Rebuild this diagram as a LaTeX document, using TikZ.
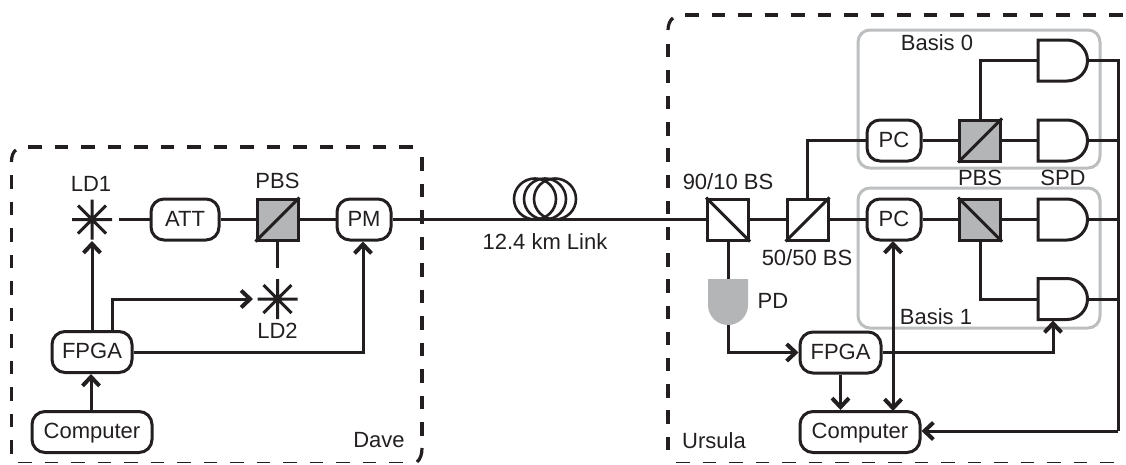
\documentclass[tikz,border=0pt]{standalone}
\usepackage{fontspec}
\setmainfont{Liberation Sans}
\usetikzlibrary{arrows.meta}
\definecolor{ink}{HTML}{231F20}
\definecolor{pbsgray}{HTML}{B3B5B7}
\definecolor{basisgray}{HTML}{BCBEC0}
\tikzset{
  x=1pt,y=-1pt,
  chev/.tip={Straight Barb[length=9pt,width=17pt,line width=4pt]},
  wire/.style={draw=ink,line width=3pt},
  sig/.style={wire,-{chev}},
  sigboth/.style={wire,{chev}-{chev}},
  roundbox/.style={draw=ink,line width=3pt,rounded corners=13pt,fill=white,minimum height=41pt,inner sep=0pt,text=ink,text height=13pt,text depth=0pt,font=\fontsize{22}{24}\selectfont},
  pbsbox/.style={draw=ink,line width=3pt,fill=pbsgray,minimum width=41pt,minimum height=41pt,inner sep=0pt},
  bsbox/.style={draw=ink,line width=3pt,fill=white,minimum width=41pt,minimum height=41pt,inner sep=0pt},
  lbl/.style={text=ink,inner sep=0pt,font=\fontsize{22}{24}\selectfont},
  region/.style={draw=ink,line width=3.2pt,dash pattern=on 13.5pt off 13pt},
  regionfoot/.style={draw=ink,line width=1.6pt,dash pattern=on 13.5pt off 13pt},
  regioncorner/.style={draw=ink,line width=3.2pt},
  basis/.style={draw=basisgray,line width=3pt,rounded corners=12pt},
  coil/.style={draw=ink,line width=2.6pt},
  starpt/.style={inner sep=0pt,minimum size=0pt},
}
\newcommand{\laserstar}[1]{%
  \draw[draw=ink,line width=3pt] ([xshift=-20pt]#1.center)--([xshift=20pt]#1.center)
    ([yshift=-20pt]#1.center)--([yshift=20pt]#1.center)
    ([xshift=-14pt,yshift=-14pt]#1.center)--([xshift=14pt,yshift=14pt]#1.center)
    ([xshift=-14pt,yshift=14pt]#1.center)--([xshift=14pt,yshift=-14pt]#1.center);}
\newcommand{\andgate}[4][white]{% fill, name, left x, centre y
  \draw[draw=ink,line width=3pt,fill=#1] (#3,#4-20.5) -- (#3+29,#4-20.5)
    arc[start angle=90,end angle=-90,radius=20.5pt] -- (#3,#4+20.5) -- cycle;
  \coordinate (#2) at (#3+49.5,#4);}
\begin{document}
\begin{tikzpicture}
\useasboundingbox (0,0) rectangle (1126,464);
% Dave region
\draw[region] (28,147) -- (414,147);
\draw[region] (422,157) -- (422,436);
\draw[region] (11.5,175) -- (11.5,454);
\draw[regionfoot] (18,462.3) -- (414,462.3);
\draw[regioncorner] (11.5,162) .. controls (11.5,156) and (13,152) .. (16,150);
\draw[regioncorner] (422,448) .. controls (422,454) and (420.5,459) .. (417,462);
% Ursula region
\draw[region] (685,15) -- (1126,15);
\draw[region,dash pattern=on 13.5pt off 12.7pt] (668,43.5) -- (668,452);
\draw[regionfoot] (676,462.5) -- (1126,462.5);
\draw[regioncorner] (668,30) .. controls (668,25) and (670,20) .. (673,18);
% Basis boxes
\draw[basis] (858,30) rectangle (1100,168);
\draw[basis] (858,188) rectangle (1100,328);
% Dave
\node[starpt] (ld1) at (92,219.5) {};
\node[starpt] (ld2) at (277.5,299) {};
\coordinate (ld1out) at (119,219.5);
\coordinate (ld2out) at (277.5,268);
\node[roundbox,minimum width=68pt] (att) at (185,219.5) {ATT};
\node[pbsbox] (pbsa) at (277.5,219.5) {};
\node[roundbox,minimum width=54pt] (pm) at (364,219.5) {PM};
\node[roundbox,minimum width=80pt] (fpgaa) at (92,352) {FPGA};
\node[roundbox,minimum width=120pt] (compa) at (92,432) {Computer};
\laserstar{ld1}\laserstar{ld2}
\draw[draw=ink,line width=3pt] (pbsa.south west) -- (pbsa.north east);
\draw[wire] (ld1out) -- (att.west);
\draw[wire] (att.east) -- (pbsa.west);
\draw[wire] (pbsa.east) -- (pm.west);
\draw[wire] (pbsa.south) -- (ld2out);
\draw[sig] (compa.north -| 91,0) -- (fpgaa.south -| 91,0);
\draw[sig] (fpgaa.north) -- (92,241);
\draw[sig] (fpgaa.north -| 112,0) -- (112,299) -- (253,299);
\draw[sig] (fpgaa.east) -- (363,352) -- (363,241.5);
% Fibre
\node[bsbox] (bsa) at (728,219.5) {};
\draw[coil] (535,199) ellipse[x radius=21pt,y radius=20.5pt];
\draw[coil] (545,199) ellipse[x radius=21pt,y radius=20.5pt];
\draw[coil] (555,199) ellipse[x radius=21pt,y radius=20.5pt];
\draw[wire] (pm.east) -- (bsa.west);
\node[lbl] (link) at (545,242) {12.4 km Link};
% Ursula
\draw[draw=ink,line width=3pt] (bsa.north west) -- (bsa.south east);
\node[bsbox] (bsb) at (807.5,219.5) {};
\draw[draw=ink,line width=3pt] (bsb.south west) -- (bsb.north east);
\node[roundbox,minimum width=54pt] (pct) at (894,140.5) {PC};
\node[roundbox,minimum width=54pt] (pcb) at (894,219.5) {PC};
\node[pbsbox] (pbst) at (980,140.5) {};
\node[pbsbox] (pbsb) at (980,219.5) {};
\draw[draw=ink,line width=3pt] (pbst.south west) -- (pbst.north east);
\draw[draw=ink,line width=3pt] (pbsb.north west) -- (pbsb.south east);
\andgate{s1}{1038}{60.5}
\andgate{s2}{1038}{140.5}
\andgate{s3}{1038}{219.5}
\andgate{s4}{1038}{299}
\fill[pbsgray] (708,279) -- (748,279) -- (748,305) arc[start angle=0,end angle=180,x radius=20pt,y radius=-20pt] -- cycle;
\node[starpt] (pd) at (728,279) {};
\coordinate (pdout) at (728,325);
\node[roundbox,minimum width=81pt] (fpgab) at (840.5,352.5) {FPGA};
\node[roundbox,minimum width=120pt] (compb) at (860,432) {Computer};
\draw[wire] (bsa.east) -- (bsb.west);
\draw[wire] (bsb.east) -- (pcb.west);
\draw[wire] (bsb.north) -- (807.5,140.5) -- (pct.west);
\draw[wire] (pct.east) -- (pbst.west);
\draw[wire] (pcb.east) -- (pbsb.west);
\draw[wire] (pbst.east) -- (1038,140.5);
\draw[wire] (pbsb.east) -- (1038,219.5);
\draw[wire] (pbst.north) -- (980,60.5) -- (1038,60.5);
\draw[wire] (pbsb.south) -- (980,299) -- (1038,299);
\draw[wire] (bsa.south) -- (pd);
\draw[sig] (pdout) -- (728,352.5) -- (fpgab.west);
\draw[sig] (fpgab.south) -- (compb.north -| 840.5,0);
\draw[sigboth] (893,241) -- (893,411);
\draw[sig] (fpgab.east) -- (1053,352.5) -- (1053,320.5);
\draw[wire] (s1) -- (1118,60.5) -- (1118,431);
\draw[wire] (s2) -- (1118,140.5);
\draw[wire] (s3) -- (1118,219.5);
\draw[wire] (s4) -- (1118,299);
\draw[sig] (1118,431) -- (compb.east |- 0,431);
% Labels
\node[lbl] (l1) at (91,184) {LD1};
\node[lbl] (l2) at (277.5,181) {PBS};
\node[lbl] (l3) at (277.5,331) {LD2};
\node[lbl] (l4) at (379,440) {Dave};
\node[lbl] (l5) at (937,43) {Basis 0};
\node[lbl] (l6) at (728,182) {90/10 BS};
\node[lbl] (l7) at (980,178) {PBS};
\node[lbl] (l8) at (1063,178) {SPD};
\node[lbl] (l9) at (807,258) {50/50 BS};
\node[lbl] (l10) at (773,301) {PD};
\node[lbl] (l11) at (936,317) {Basis 1};
\node[lbl] (l12) at (714,441) {Ursula};
\end{tikzpicture}
\end{document}
